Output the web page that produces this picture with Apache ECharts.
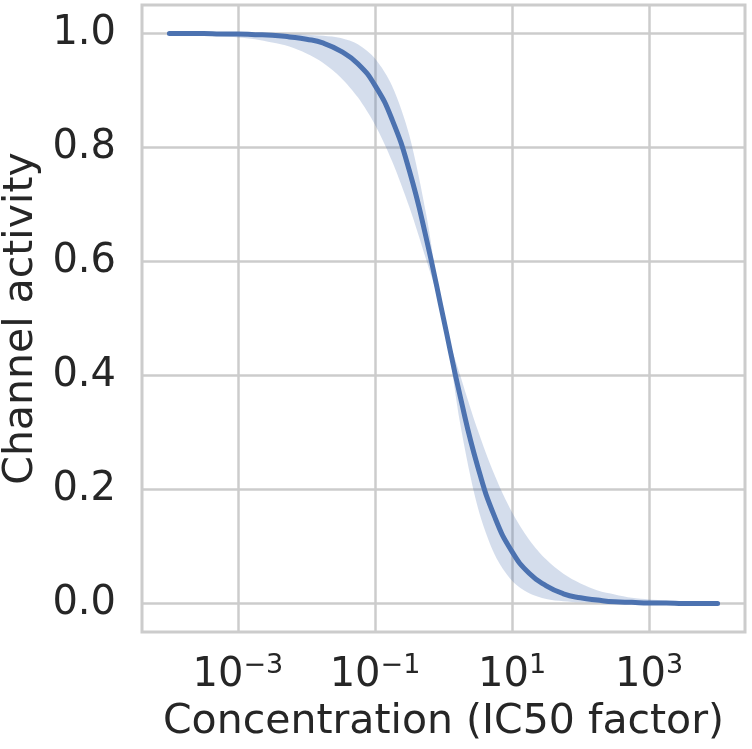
<!DOCTYPE html>
<html>
<head>
<meta charset="utf-8">
<script src="https://cdn.jsdelivr.net/npm/echarts@6/dist/echarts.min.js"></script>
<style>
  html, body { margin: 0; padding: 0; background: #fff; }
  #chart { width: 752px; height: 749px; }
</style>
</head>
<body>
<div id="chart"></div>
<script>
// concentration as log10 of the IC50 factor
const logConc = [-4, -3.75, -3.5, -3.25, -3, -2.75, -2.5, -2.25, -2, -1.75, -1.5, -1.25, -1, -0.75, -0.5, -0.25,
  0, 0.25, 0.5, 0.75, 1, 1.25, 1.5, 1.75, 2, 2.25, 2.5, 2.75, 3, 3.25, 3.5, 3.75, 4]
const activity = [1.000, 1.000, 1.000, 0.999, 0.999, 0.998, 0.997, 0.994, 0.990, 0.983, 0.969, 0.947, 0.909, 0.849, 0.760, 0.640,
  0.500, 0.360, 0.240, 0.151, 0.091, 0.053, 0.031, 0.017, 0.010, 0.006, 0.003, 0.002, 0.001, 0.001, 0.000, 0.000, 0.000]
const activityLow = [0.999, 0.998, 0.997, 0.995, 0.993, 0.990, 0.984, 0.977, 0.965, 0.948, 0.923, 0.888, 0.840, 0.776, 0.696, 0.602,
  0.500, 0.311, 0.169, 0.085, 0.040, 0.018, 0.008, 0.004, 0.002, 0.001, 0, 0, 0, 0, 0, 0, 0]
const activityHigh = [1, 1, 1, 1, 1, 1, 1, 0.999, 0.998, 0.996, 0.992, 0.981, 0.956, 0.908, 0.822, 0.681,
  0.500, 0.398, 0.304, 0.224, 0.160, 0.112, 0.077, 0.052, 0.035, 0.023, 0.016, 0.010, 0.007, 0.005, 0.003, 0.002, 0.001]

const xTickExps = [-3, -1, 1, 3]
const yTicks = [0, 0.2, 0.4, 0.6, 0.8, 1.0]

const font = 'DejaVu Sans'
const textColor = '#262626'
const gridColor = '#cccccc'

let myChart = echarts.init(document.getElementById('chart'))

let option = {
  animation: false,
  grid: {
    left: 142,
    right: 7,
    top: 5,
    bottom: 117,
    containLabel: false,
    outerBoundsMode: 'none',
    show: true,
    borderColor: gridColor,
    borderWidth: 3
  },
  xAxis: {
    type: 'value',
    min: -4.4,
    max: 4.4,
    axisLine: { show: false },
    axisTick: { show: false, customValues: xTickExps },
    axisLabel: {
      customValues: xTickExps,
      margin: 20,
      formatter: function (v) {
        return '{b|10}{s|' + (v < 0 ? '\u2212' : '') + Math.abs(v) + '}'
      },
      rich: {
        b: { fontSize: 40, fontFamily: font, color: textColor, lineHeight: 48 },
        s: { fontSize: 27, fontFamily: font, color: textColor, lineHeight: 36, verticalAlign: 'top' }
      }
    },
    splitLine: { show: true, customValues: xTickExps, lineStyle: { color: gridColor, width: 2.5 } },
    name: 'Concentration (IC50 factor)',
    nameLocation: 'middle',
    nameGap: 70,
    nameTextStyle: { fontSize: 41, fontFamily: font, color: textColor }
  },
  yAxis: {
    type: 'value',
    min: -0.05,
    max: 1.05,
    axisLine: { show: false },
    axisTick: { show: false, customValues: yTicks },
    axisLabel: {
      customValues: yTicks,
      margin: 26,
      fontSize: 40,
      fontFamily: font,
      color: textColor,
      formatter: function (v) { return v.toFixed(1) }
    },
    splitLine: { show: true, customValues: yTicks, lineStyle: { color: gridColor, width: 2.5 } },
    name: 'Channel activity',
    nameLocation: 'middle',
    nameGap: 95,
    nameTextStyle: { fontSize: 41, fontFamily: font, color: textColor }
  },
  series: [
    {
      // spread band
      type: 'custom',
      data: logConc.map((x, i) => [x, activityLow[i], activityHigh[i]]),
      encode: { x: 0, y: [1, 2] },
      renderItem: function (params, api) {
        if (params.dataIndex !== 0) return
        let upper = logConc.map((x, i) => api.coord([x, activityHigh[i]]))
        let lower = logConc.map((x, i) => api.coord([x, activityLow[i]])).reverse()
        return {
          type: 'polygon',
          shape: { points: upper.concat(lower), smooth: 0.3 },
          style: { fill: 'rgba(76,114,176,0.24)' }
        }
      },
      silent: true,
      z: 1
    },
    {
      type: 'line',
      data: logConc.map((x, i) => [x, activity[i]]),
      showSymbol: false,
      smooth: true,
      lineStyle: { color: '#4c72b0', width: 5, cap: 'round' },
      z: 2
    }
  ]
}

myChart.setOption(option)
</script>
</body>
</html>
